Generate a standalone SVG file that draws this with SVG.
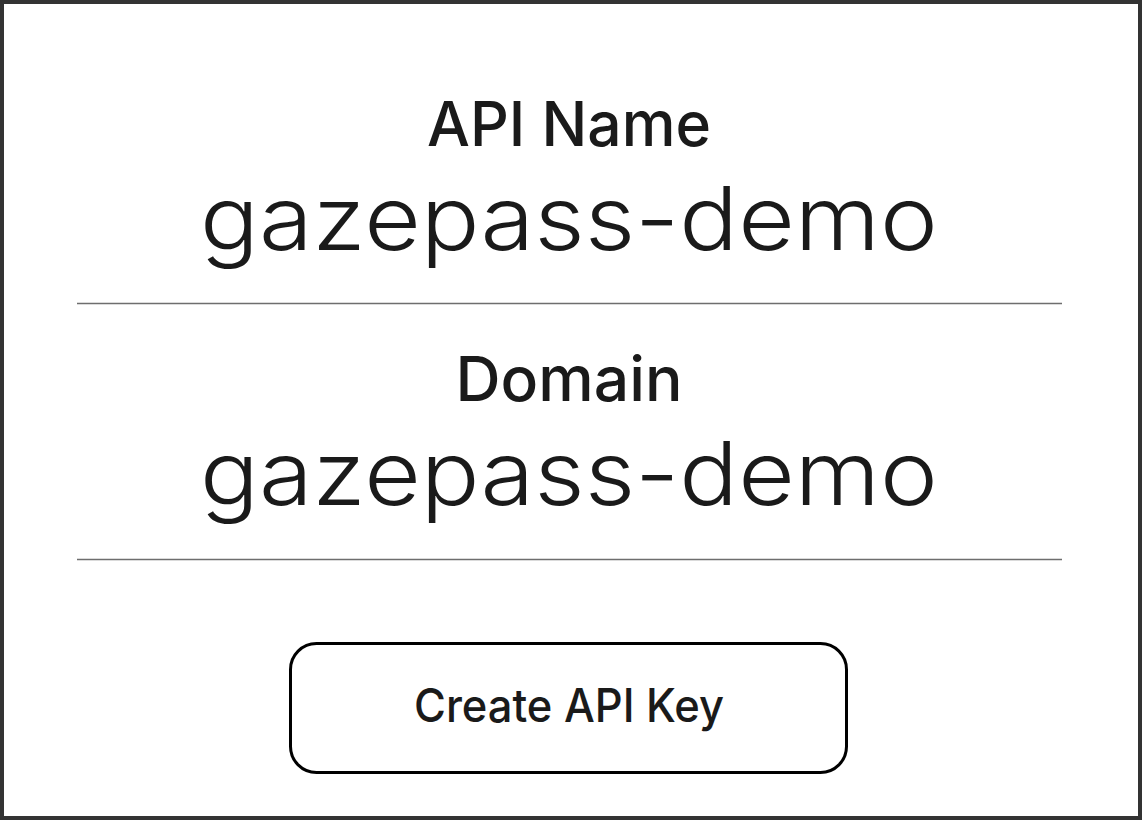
<svg xmlns="http://www.w3.org/2000/svg" width="1142" height="820" viewBox="0 0 1142 820">
<style>
.lbl{font-family:Inter,"Noto Sans",sans-serif;font-weight:500;fill:#1a1a1a;text-anchor:middle}
.val{font-family:Inter,"Noto Sans",sans-serif;font-weight:300;fill:#1a1a1a;text-anchor:middle}
.sep{stroke:#6e6e6e;stroke-width:1.5}
</style>
<rect x="0" y="0" width="1142" height="820" fill="#333"/>
<rect x="4" y="4" width="1134" height="812" fill="#fff"/>
<g id="api-name">
<text class="lbl" x="569" y="146" font-size="62" textLength="284" lengthAdjust="spacingAndGlyphs">API Name</text>
<text class="val" x="569" y="250" font-size="88" textLength="738" lengthAdjust="spacingAndGlyphs">gazepass-demo</text>
</g>
<g id="domain">
<text class="lbl" x="569" y="401" font-size="62" textLength="227" lengthAdjust="spacingAndGlyphs">Domain</text>
<text class="val" x="569" y="505" font-size="88" textLength="738" lengthAdjust="spacingAndGlyphs">gazepass-demo</text>
</g>
<g id="connectors">
<line class="sep" x1="77" y1="303.5" x2="1062" y2="303.5"/>
<line class="sep" x1="77" y1="559.5" x2="1062" y2="559.5"/>
</g>
<g id="create-button">
<rect x="290.5" y="643.5" width="556" height="129" rx="26" fill="#fff" stroke="#000" stroke-width="3"/>
<text class="lbl" x="569" y="722" font-size="46" textLength="310" lengthAdjust="spacingAndGlyphs">Create API Key</text>
</g>
</svg>
